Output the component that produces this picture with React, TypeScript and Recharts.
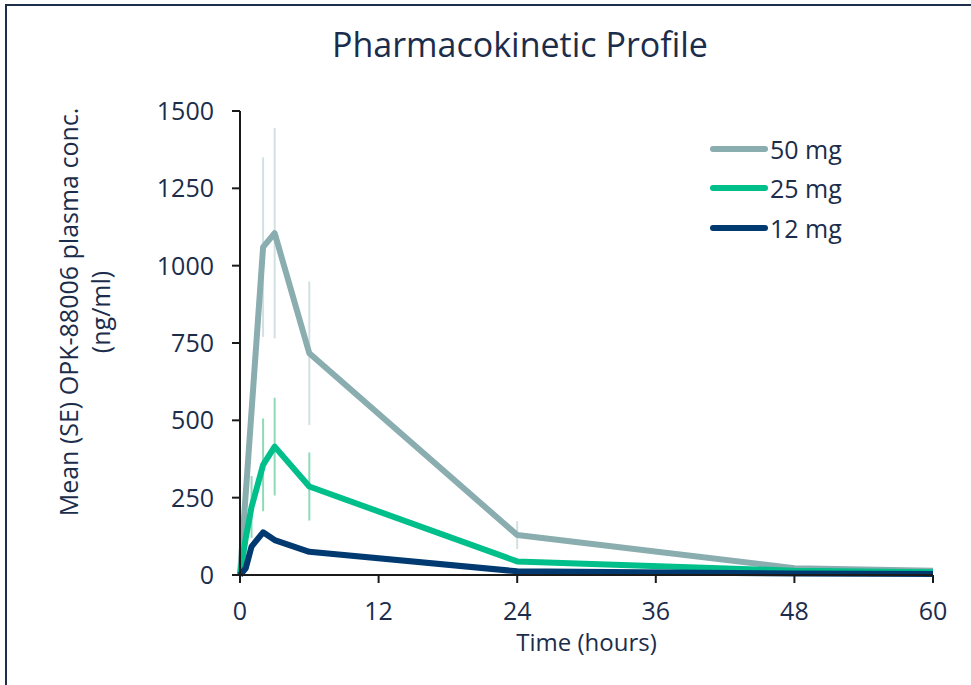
import React from 'react';
import { LineChart, Line, XAxis, YAxis, ErrorBar, Legend } from 'recharts';

// sampling times (hours) and mean / SE concentrations (ng/ml)
const times = [0, 0.5, 1, 2, 3, 6, 24, 48, 60];
const conc50 = [0, null, null, 1060, 1105, 717, 129, 22, 14];
const conc25 = [0, 120, 220, 356, 415, 286, 44, 14, 9];
const conc12 = [0, 22, 92, 138, 113, 75, 12, 5, 3];
const se50 = [null, null, null, 290, 340, 232, 45, null, null];
const se25 = [null, null, 100, 150, 158, 110, null, null, null];

const xTicks = [0, 12, 24, 36, 48, 60];
const yTicks = [0, 250, 500, 750, 1000, 1250, 1500];

const seriesNames = ['50 mg', '25 mg', '12 mg'];

const C50 = '#8aadb0';
const C25 = '#00bf8a';
const C12 = '#003a70';
const BAR50 = '#d2e0e1';
const BAR25 = '#8edbb8';
const TEXT = '#1b2d4b';
const FONT = '"Open Sans", "Noto Sans", sans-serif';

const data = times.map((t, i) => ({
  t,
  c50: conc50[i],
  c25: conc25[i],
  c12: conc12[i],
  se50: se50[i],
  se25: se25[i],
}));

const TICK = { fill: TEXT, fontSize: 25, fontFamily: FONT };
const AXIS_LINE = { stroke: '#1a1a1a', strokeWidth: 2 };

function LegendBox({ payload }: any) {
  const items = (payload || [])
    .filter((p: any) => p.type !== 'none')
    .sort((a: any, b: any) => seriesNames.indexOf(a.value) - seriesNames.indexOf(b.value));
  return (
    <div style={{ fontFamily: FONT, color: TEXT, fontSize: 25 }}>
      {items.map((p: any) => (
        <div key={p.value} style={{ display: 'flex', alignItems: 'center', height: 39.5 }}>
          <svg width={58} height={10} style={{ marginRight: 2 }}>
            <line x1={3} y1={5} x2={55} y2={5} stroke={p.color} strokeWidth={6} strokeLinecap="round" />
          </svg>
          <span>{p.value}</span>
        </div>
      ))}
    </div>
  );
}

function YLabel() {
  return (
    <g fill={TEXT} fontFamily={FONT} fontSize={25}>
      <text x={68} y={312} transform="rotate(-90 68 312)" textAnchor="middle" dominantBaseline="central">
        Mean (SE) OPK-88006 plasma conc.
      </text>
      <text x={100} y={312} transform="rotate(-90 100 312)" textAnchor="middle" dominantBaseline="central">
        (ng/ml)
      </text>
    </g>
  );
}

export default function App() {
  return (
    <div style={{ position: 'absolute', left: 0, top: 0, width: 971, height: 685, background: '#fff', overflow: 'hidden' }}>
      {/* frame: top + left edges only, the rest is cut off */}
      <div style={{
        position: 'absolute', left: 5, top: 4, width: 980, height: 700,
        borderTop: '2px solid #1d2f4d', borderLeft: '2px solid #1d2f4d',
      }} />
      <div style={{
        position: 'absolute', left: 0, width: 1040, top: 21, textAlign: 'center',
        fontFamily: FONT, fontSize: 34, color: TEXT, lineHeight: '46px',
      }}>
        Pharmacokinetic Profile
      </div>
      <div style={{ position: 'absolute', left: 0, top: 0 }}>
        <LineChart width={971} height={685} data={data} margin={{ top: 111, right: 38, bottom: 70, left: 180 }}>
          <XAxis
            dataKey="t" type="number" domain={[0, 60]} ticks={xTicks}
            axisLine={AXIS_LINE} tickLine={AXIS_LINE} tickSize={8} tickMargin={19}
            tick={TICK} height={40} interval={0}
            label={{ value: 'Time (hours)', position: 'insideBottom', offset: -36, fill: TEXT, fontSize: 24, fontFamily: FONT }}
          />
          <YAxis
            type="number" domain={[0, 1500]} ticks={yTicks} width={60}
            axisLine={AXIS_LINE} tickLine={AXIS_LINE} tickSize={8} tickMargin={18}
            tick={TICK} interval={0}
            label={{ content: () => <YLabel /> }}
          />
          <Legend
            layout="horizontal" verticalAlign="middle" align="center"
            wrapperStyle={{ position: 'absolute', left: 710, top: 129, width: 170 }}
            content={<LegendBox />}
          />
          {/* error bars first so the lines sit on top */}
          <Line dataKey="c50" stroke="none" dot={false} activeDot={false} legendType="none" connectNulls isAnimationActive={false}>
            <ErrorBar dataKey="se50" width={0} stroke={BAR50} strokeWidth={2} direction="y" isAnimationActive={false} />
          </Line>
          <Line dataKey="c25" stroke="none" dot={false} activeDot={false} legendType="none" isAnimationActive={false}>
            <ErrorBar dataKey="se25" width={0} stroke={BAR25} strokeWidth={2} direction="y" isAnimationActive={false} />
          </Line>
          <Line name={seriesNames[0]} dataKey="c50" type="linear" stroke={C50} strokeWidth={6} strokeLinejoin="round" dot={false} activeDot={false} connectNulls isAnimationActive={false} />
          <Line name={seriesNames[1]} dataKey="c25" type="linear" stroke={C25} strokeWidth={6} strokeLinejoin="round" dot={false} activeDot={false} isAnimationActive={false} />
          <Line name={seriesNames[2]} dataKey="c12" type="linear" stroke={C12} strokeWidth={6} strokeLinejoin="round" dot={false} activeDot={false} isAnimationActive={false} />
        </LineChart>
      </div>
    </div>
  );
}
